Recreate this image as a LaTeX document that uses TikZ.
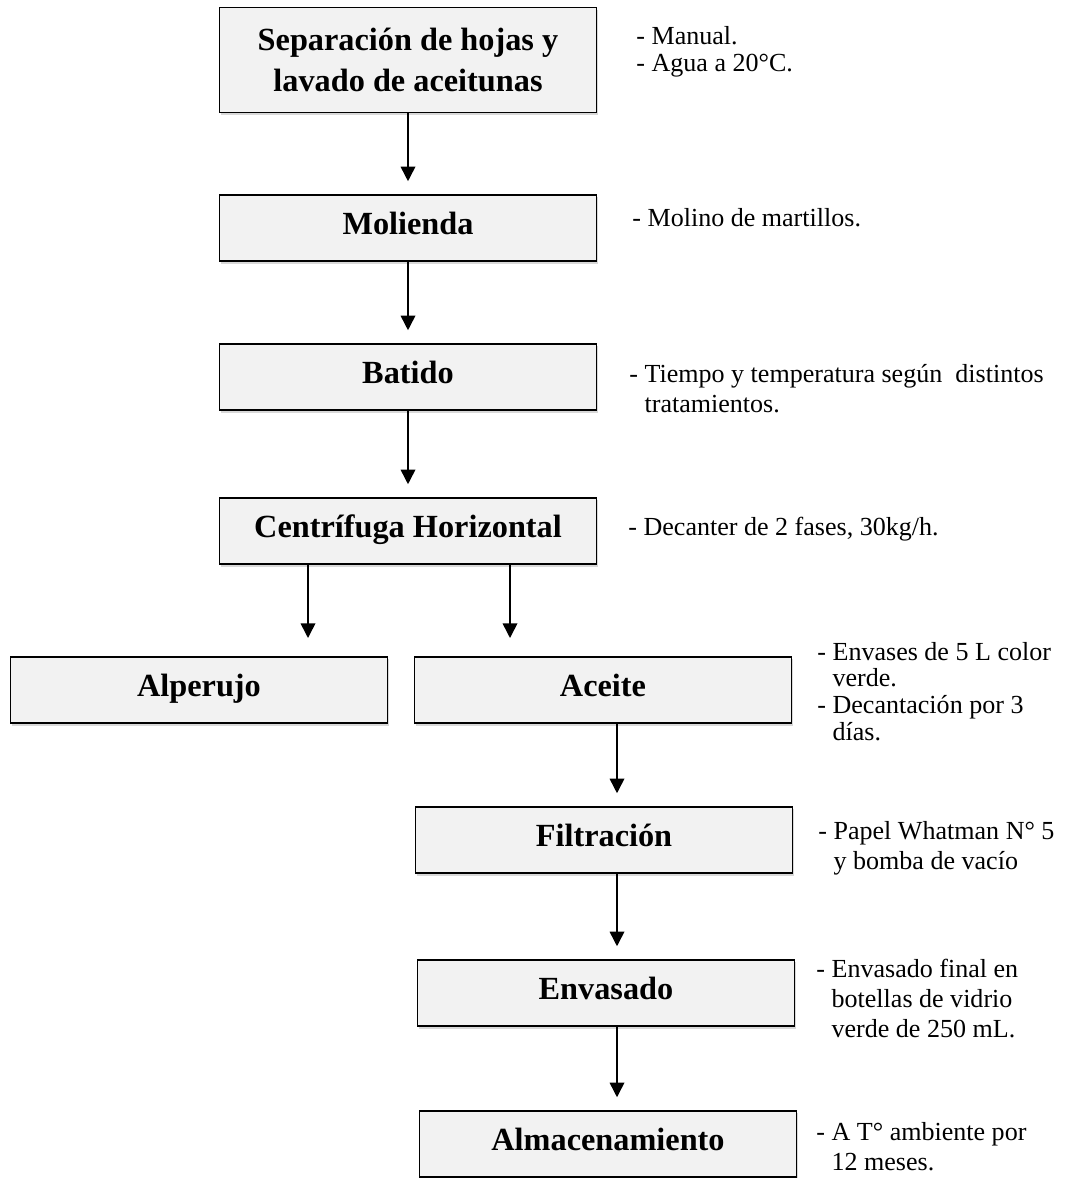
\documentclass[tikz,border=0pt]{standalone}
\usepackage{fontspec}
\setmainfont{Liberation Serif}
\usepackage{tikz}
\usetikzlibrary{arrows.meta,shadows,positioning}
\definecolor{boxgray}{RGB}{242,242,242}
\tikzset{
  proc/.style={draw=black, line width=0.9pt, fill=boxgray, minimum width=181pt, minimum height=32pt,
    align=center, inner sep=2pt, font=\fontsize{15.5}{19.5}\selectfont\bfseries,
    drop shadow={shadow xshift=0.8pt, shadow yshift=-1.3pt, fill=black!30}},
  oneline/.style={text height=10.2pt, text depth=3.9pt},
  note/.style={anchor=base west, align=left, inner sep=0pt, font=\fontsize{12.5}{#1}\selectfont},
  note/.default=14pt,
  arr/.style={-{Triangle[length=7pt,width=7pt]}, line width=0.75pt, shorten >=6pt}
}
\newcommand{\ind}{\phantom{-~}}
\begin{document}
\begin{tikzpicture}[x=0.48pt,y=-0.48pt]
\useasboundingbox (0,0) rectangle (1069,1178);
% etapas del proceso
\node[proc, minimum height=50.4pt] (sep) at (408,60) {Separación de hojas y\\lavado de aceitunas};
\node[proc, oneline] (mol) at (408,228) {Molienda};
\node[proc, oneline] (bat) at (408,377) {Batido};
\node[proc, oneline] (cen) at (408,531) {Centrífuga Horizontal};
\node[proc, oneline] (alp) at (199,690) {Alperujo};
\node[proc, oneline] (ace) at (603,690) {Aceite};
\node[proc, oneline] (fil) at (604,840) {Filtración};
\node[proc, oneline] (env) at (606,993) {Envasado};
\node[proc, oneline] (alm) at (608,1144) {Almacenamiento};
% flechas
\draw[arr] (sep) -- (mol);
\draw[arr] (mol) -- (bat);
\draw[arr] (bat) -- (cen);
\coordinate (s1) at (308,638);
\coordinate (s2) at (510,638);
\coordinate (ax) at (617,0);
\draw[arr, shorten >=0pt] (s1 |- cen.south) -- (s1);
\draw[arr, shorten >=0pt] (s2 |- cen.south) -- (s2);
\draw[arr] (ace.south -| ax) -- (fil.north -| ax);
\draw[arr] (fil.south -| ax) -- (env.north -| ax);
\draw[arr] (env.south -| ax) -- (alm.north -| ax);
% condiciones
\node[note=13pt] (n1) at (636,72) {- Manual.\\- Agua a 20°C.};
\node[note] (n2) at (632,227) {- Molino de martillos.};
\node[note=14.4pt] (n3) at (629,412) {- Tiempo y temperatura según~ distintos\\\ind tratamientos.};
\node[note] (n4) at (628,535) {- Decanter de 2 fases, 30kg/h.};
\node[note=12.8pt] (n5) at (817,740) {- Envases de 5 L color\\\ind verde.\\- Decantación por 3\\\ind días.};
\node[note] (n6) at (818,869) {- Papel Whatman N° 5\\\ind y bomba de vacío};
\node[note=14.4pt] (n7) at (816,1037) {- Envasado final en\\\ind botellas de vidrio\\\ind verde de 250 mL.};
\node[note] (n8) at (816,1170) {- A T° ambiente por\\\ind 12 meses.};
\end{tikzpicture}
\end{document}
